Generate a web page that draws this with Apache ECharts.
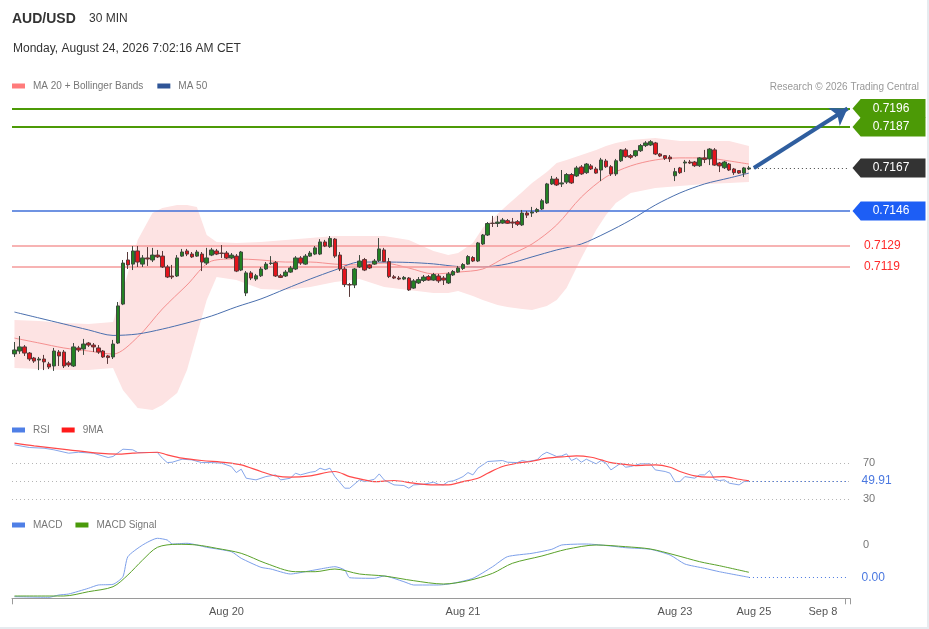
<!DOCTYPE html>
<html><head><meta charset="utf-8">
<script src="https://cdn.jsdelivr.net/npm/echarts@6.0.0/dist/echarts.min.js"></script>
<style>
html,body{margin:0;padding:0;background:#fff;}
#wrap{width:927px;height:627px;border-right:2px solid #e6ebef;border-bottom:2px solid #e6ebef;}
#c{width:927px;height:627px;}
</style>
</head><body><div id="wrap"><div id="c"></div></div>
<script>
// ---------- DATA ----------
const tickIdx = [43, 91, 134, 150, 164];
const tickText = ['Aug 20', 'Aug 21', 'Aug 23', 'Aug 25', 'Sep 8'];
const nCategories = 170;

const open = [0.70763,0.70777,0.70797,0.70767,0.70743,0.70733,0.70738,0.70714,0.70704,0.70772,
0.70772,0.70719,0.70704,0.70792,0.70787,0.70816,0.70806,0.70792,0.70777,0.70753,
0.70748,0.70816,0.71006,0.71221,0.71201,0.71265,0.71201,0.71231,0.71221,0.71245,
0.71240,0.71187,0.71143,0.71143,0.71240,0.71265,0.71250,0.71240,0.71250,0.71206,
0.71245,0.71265,0.71255,0.71255,0.71231,0.71240,0.71172,0.71060,0.71158,0.71128,
0.71144,0.71177,0.71204,0.71208,0.71144,0.71143,0.71162,0.71177,0.71231,0.71201,
0.71240,0.71250,0.71250,0.71309,0.71286,0.71323,0.71245,0.71177,0.71101,0.71099,
0.71187,0.71223,0.71197,0.71201,0.71218,0.71270,0.71213,0.71139,0.71133,0.71128,
0.71133,0.71084,0.71109,0.71121,0.71140,0.71123,0.71143,0.71133,0.71109,0.71148,
0.71162,0.71180,0.71201,0.71233,0.71216,0.71299,0.71343,0.71401,0.71399,0.71401,
0.71413,0.71406,0.71408,0.71392,0.71450,0.71450,0.71457,0.71470,0.71499,0.71592,
0.71616,0.71592,0.71601,0.71638,0.71631,0.71675,0.71647,0.71680,0.71665,0.71660,
0.71704,0.71676,0.71641,0.71705,0.71758,0.71730,0.71730,0.71754,0.71779,0.71782,
0.71792,0.71738,0.71730,0.71723,0.71632,0.71670,0.71694,0.71699,0.71699,0.71681,
0.71719,0.71714,0.71758,0.71694,0.71671,0.71689,0.71665,0.71657,0.71645,0.71665];

const close = [0.70782,0.70797,0.70767,0.70738,0.70728,0.70738,0.70724,0.70699,0.70777,0.70753,
0.70704,0.70709,0.70797,0.70782,0.70811,0.70806,0.70797,0.70772,0.70748,0.70745,
0.70811,0.70997,0.71206,0.71197,0.71265,0.71211,0.71231,0.71226,0.71245,0.71236,
0.71187,0.71138,0.71138,0.71231,0.71260,0.71250,0.71236,0.71260,0.71211,0.71231,
0.71270,0.71250,0.71253,0.71231,0.71245,0.71167,0.71260,0.71158,0.71133,0.71144,
0.71177,0.71201,0.71206,0.71143,0.71136,0.71162,0.71182,0.71231,0.71206,0.71240,
0.71255,0.71280,0.71309,0.71289,0.71326,0.71240,0.71177,0.71101,0.71099,0.71177,
0.71216,0.71172,0.71182,0.71216,0.71275,0.71213,0.71140,0.71133,0.71128,0.71136,
0.71075,0.71119,0.71126,0.71138,0.71123,0.71150,0.71119,0.71123,0.71153,0.71165,
0.71182,0.71199,0.71238,0.71216,0.71304,0.71343,0.71399,0.71399,0.71406,0.71416,
0.71400,0.71401,0.71395,0.71450,0.71440,0.71455,0.71467,0.71510,0.71592,0.71616,
0.71587,0.71597,0.71638,0.71597,0.71670,0.71641,0.71689,0.71665,0.71645,0.71709,
0.71676,0.71641,0.71705,0.71758,0.71725,0.71722,0.71754,0.71779,0.71792,0.71798,
0.71738,0.71728,0.71717,0.71714,0.71652,0.71647,0.71699,0.71694,0.71681,0.71719,
0.71711,0.71762,0.71684,0.71680,0.71699,0.71660,0.71647,0.71645,0.71670,0.71670];

const low = [0.70748,0.70763,0.70753,0.70728,0.70719,0.70684,0.70684,0.70689,0.70680,0.70704,
0.70694,0.70699,0.70699,0.70772,0.70758,0.70797,0.70772,0.70763,0.70743,0.70714,
0.70738,0.70811,0.71001,0.71177,0.71172,0.71187,0.71187,0.71192,0.71211,0.71231,
0.71182,0.71133,0.71128,0.71138,0.71236,0.71240,0.71231,0.71236,0.71167,0.71197,
0.71240,0.71245,0.71231,0.71226,0.71226,0.71162,0.71167,0.71045,0.71123,0.71119,
0.71138,0.71172,0.71197,0.71138,0.71133,0.71138,0.71158,0.71172,0.71197,0.71197,
0.71236,0.71245,0.71245,0.71284,0.71280,0.71231,0.71167,0.71089,0.71041,0.71084,
0.71182,0.71167,0.71177,0.71197,0.71211,0.71211,0.71133,0.71128,0.71123,0.71123,
0.71070,0.71080,0.71104,0.71114,0.71119,0.71119,0.71109,0.71099,0.71104,0.71143,
0.71158,0.71172,0.71197,0.71211,0.71211,0.71294,0.71338,0.71382,0.71382,0.71397,
0.71397,0.71377,0.71387,0.71387,0.71426,0.71431,0.71450,0.71465,0.71494,0.71587,
0.71582,0.71577,0.71592,0.71592,0.71626,0.71636,0.71641,0.71660,0.71641,0.71606,
0.71670,0.71631,0.71631,0.71699,0.71719,0.71714,0.71723,0.71748,0.71772,0.71777,
0.71733,0.71723,0.71709,0.71699,0.71606,0.71641,0.71650,0.71689,0.71675,0.71675,
0.71694,0.71684,0.71680,0.71650,0.71665,0.71655,0.71636,0.71641,0.71626,0.71660];

const high = [0.70821,0.70850,0.70806,0.70772,0.70748,0.70748,0.70758,0.70724,0.70792,0.70782,
0.70782,0.70728,0.70816,0.70802,0.70836,0.70821,0.70816,0.70806,0.70782,0.70758,
0.70831,0.71016,0.71221,0.71260,0.71289,0.71289,0.71245,0.71284,0.71280,0.71270,
0.71265,0.71197,0.71197,0.71245,0.71275,0.71275,0.71260,0.71270,0.71260,0.71280,
0.71280,0.71275,0.71294,0.71265,0.71255,0.71250,0.71265,0.71167,0.71167,0.71153,
0.71187,0.71211,0.71240,0.71216,0.71153,0.71172,0.71192,0.71240,0.71240,0.71250,
0.71265,0.71289,0.71323,0.71319,0.71338,0.71328,0.71260,0.71187,0.71109,0.71182,
0.71245,0.71231,0.71201,0.71226,0.71328,0.71280,0.71231,0.71148,0.71143,0.71143,
0.71138,0.71128,0.71138,0.71148,0.71148,0.71158,0.71153,0.71143,0.71162,0.71172,
0.71192,0.71206,0.71245,0.71240,0.71309,0.71348,0.71406,0.71436,0.71436,0.71426,
0.71421,0.71426,0.71416,0.71465,0.71460,0.71480,0.71475,0.71519,0.71597,0.71631,
0.71626,0.71660,0.71645,0.71645,0.71680,0.71684,0.71694,0.71689,0.71675,0.71719,
0.71714,0.71684,0.71714,0.71762,0.71767,0.71738,0.71758,0.71787,0.71801,0.71806,
0.71797,0.71743,0.71733,0.71733,0.71670,0.71675,0.71709,0.71709,0.71704,0.71723,
0.71758,0.71767,0.71767,0.71699,0.71704,0.71694,0.71670,0.71660,0.71675,0.71680];

// moving averages (read at sample candles)
const maIdx = [0,5,10,15,20,25,30,35,40,45,50,55,60,65,70,75,80,85,90,95,100,105,110,115,120,125,130,135,140,145,149];
const ma20 = [0.70840,0.70816,0.70792,0.70777,0.70762,0.70845,0.70982,0.71099,0.71216,0.71226,
0.71221,0.71211,0.71211,0.71201,0.71197,0.71206,0.71182,0.71153,0.71162,0.71177,
0.71240,0.71299,0.71392,0.71528,0.71626,0.71680,0.71709,0.71719,0.71719,0.71704,0.71689];
const ma50 = [0.70967,0.70938,0.70909,0.70880,0.70853,0.70860,0.70884,0.70914,0.70948,0.70992,
0.71031,0.71080,0.71128,0.71172,0.71211,0.71211,0.71209,0.71202,0.71189,0.71187,
0.71202,0.71236,0.71270,0.71299,0.71353,0.71416,0.71489,0.71548,0.71592,0.71621,0.71645];

// Bollinger bands
const bandIdx = [0,5,10,15,20,22,25,28,30,33,35,37,39,41,45,50,55,60,65,70,75,80,85,88,90,93,95,98,100,103,105,108,110,112,115,118,120,122,125,130,135,140,145,149];
const bandUpper = [0.70928,0.70923,0.70914,0.70909,0.70919,0.71075,0.71319,0.71450,0.71475,0.71489,
0.71489,0.71480,0.71343,0.71309,0.71304,0.71309,0.71319,0.71328,0.71338,0.71338,
0.71338,0.71319,0.71265,0.71245,0.71255,0.71304,0.71377,0.71445,0.71489,0.71553,
0.71597,0.71650,0.71694,0.71709,0.71733,0.71758,0.71777,0.71792,0.71806,0.71816,
0.71801,0.71801,0.71801,0.71777];
const bandLower = [0.70694,0.70689,0.70684,0.70684,0.70694,0.70587,0.70499,0.70489,0.70514,0.70572,
0.70684,0.70855,0.71026,0.71138,0.71123,0.71080,0.71075,0.71089,0.71114,0.71128,
0.71089,0.71075,0.71060,0.71060,0.71070,0.71045,0.71026,0.71001,0.70992,0.70982,
0.70977,0.70997,0.71026,0.71084,0.71231,0.71367,0.71440,0.71499,0.71548,0.71572,
0.71582,0.71592,0.71597,0.71601];

// key levels
const resistLevels = [0.7196, 0.7187];
const lastPrice = 0.7167;
const pivotLevel = 0.7146;
const supportLevels = [0.7129, 0.7119];

// RSI
const rsiIdx = [0,3,6,8,11,13,16,19,20,22,24,25,29,30,31,32,34,36,38,40,42,44,45,46,47,49,51,53,54,56,57,58,60,61,62,63,64,65,67,68,70,71,73,74,75,77,79,80,81,83,85,86,87,88,89,90,91,92,93,94,96,99,100,102,103,104,106,107,108,110,111,112,113,114,115,116,117,118,119,120,121,123,124,125,127,129,130,132,133,134,135,136,138,139,140,141,142,143,144,145,147,148,149];
const rsiVal = [90.6,87.6,86.8,85,81.2,82.3,81.2,76.4,77.5,85.7,85,82,82,75.6,70.7,71.1,74.5,73.7,70.7,70.7,70,66.3,59.5,63.3,53.2,51.3,55,56.9,51.3,53.2,58.8,56.9,59.9,60.7,64.4,62.5,64.4,55,42,42,51.3,49.4,52,58,51.3,45.7,45,42,45.7,46.4,48.7,46.4,45.7,49.4,50.2,52.4,55,59.5,56.9,64.4,71.9,73,71.1,70.7,73,71.9,73.7,79.3,82.3,77.5,78.2,80.5,73,75.6,71.1,74.5,71.9,69.3,73,70,62.5,70,65.5,66.3,69.3,69.3,62.5,60.7,58.8,49.4,49.4,55,53.2,56.9,56.9,61.8,52,50.6,51.3,47.6,45.7,49.4,49.91];
const rsiMaIdx = [0,4,11,17,21,24,29,31,34,38,43,46,50,53,56,60,65,68,71,73,77,81,85,88,90,91,94,96,99,102,105,108,112,114,117,119,121,123,126,130,133,135,138,141,144,147,149];
const rsiMaVal = [92.4,89.4,85,81.2,80.1,81.2,82.3,79.3,75.6,73,70.7,68.1,60.7,55.8,54.3,55.8,60.7,55,51.3,49.4,50.6,47.6,45.7,45.7,48,49.4,53.2,58.8,66.3,70,72.2,75.6,77.5,78.2,76.7,73.7,70.7,69.3,67.4,68.1,65.5,60.7,55.8,54.3,55,52,50.2];
const rsiLevels = [70, 50, 30];
const rsiAxisLabels = [30, 70];

// MACD
const macdIdx = [0,7,9,11,15,17,20,22,23,26,29,31,32,35,39,44,46,50,52,56,59,62,65,67,68,73,75,79,81,86,89,93,97,100,105,109,111,116,121,124,129,133,136,140,143,149];
const macdVal = [-11.4e-5,-12e-5,-9.7e-5,-8.7e-5,-3e-5,0.3e-5,1e-5,8.6e-5,28.6e-5,40.3e-5,47e-5,45.3e-5,41.3e-5,42e-5,38e-5,33.6e-5,27e-5,18e-5,16.3e-5,11.3e-5,13.6e-5,16.3e-5,18.6e-5,15.3e-5,7.6e-5,7e-5,9.3e-5,3.6e-5,0.3e-5,0.3e-5,2e-5,7e-5,18.6e-5,28.6e-5,32e-5,36e-5,40.3e-5,41.3e-5,39.3e-5,37.6e-5,36e-5,30.3e-5,21.3e-5,17e-5,13.6e-5,8e-5];
const sigIdx = [0,10,15,20,23,26,29,33,37,41,46,51,57,61,65,70,75,81,87,92,97,101,107,112,118,124,129,134,139,143,149];
const sigVal = [-10.7e-5,-10.7e-5,-6.4e-5,-1.4e-5,10.3e-5,25.3e-5,38e-5,41e-5,40.3e-5,37e-5,32e-5,22e-5,13.6e-5,13.6e-5,16.3e-5,11.3e-5,9.3e-5,4.6e-5,1.3e-5,4.6e-5,12e-5,22e-5,29.3e-5,36e-5,40.3e-5,38.6e-5,36.3e-5,30.3e-5,23.6e-5,19.6e-5,13e-5];
const macdAxisLabels = [0.0004];

// ---------- CHART ----------
const FONT = 'Liberation Sans, Arial, sans-serif';
const lastIdx = open.length - 1;
const endIdx = nCategories - 1;
const cats = Array.from({length: nCategories}, (_, k) => 'c' + k);
const labelFor = (idx) => { const p = tickIdx.indexOf(idx); return p >= 0 ? tickText[p] : ''; };
const pairs = (ix, v) => ix.map((k, j) => [k, v[j]]);

const GL = 12, GR = 77;
const chart = echarts.init(document.getElementById('c'), null, {renderer: 'canvas'});

const xBase = (gi, show) => ({
  type: 'category', gridIndex: gi, data: cats, boundaryGap: true,
  axisLine: {show: show, onZero: false, lineStyle: {color: '#9a9a9a', width: 1}},
  axisTick: {show: show, length: 6, lineStyle: {color: '#9a9a9a'}, interval: (i) => i === 0 || i === endIdx},
  axisLabel: {show: show, interval: 0, margin: 8, color: '#555', fontSize: 11, fontFamily: FONT,
    formatter: (v, i) => labelFor(i)},
  splitLine: {show: false}
});

const tag = (val, color) => ({
  coord: [lastIdx, val], x: 889, value: val,
  symbol: 'path://M0,10L9,0L80,0L80,20L9,20Z', symbolSize: [73, 19],
  itemStyle: {color: color},
  label: {show: true, position: 'inside', offset: [2, 0], color: '#fff', fontSize: 12, fontFamily: FONT,
    formatter: (p) => p.value.toFixed(4)}
});

const legendText = {color: '#777', fontSize: 10, fontFamily: FONT, padding: [0, 0, 0, 3]};

const option = {
  animation: false,
  backgroundColor: '#fff',
  textStyle: {fontFamily: FONT},
  title: [
    {text: 'AUD/USD', left: 12, top: 12, padding: 0, textStyle: {fontSize: 14, fontWeight: 'bold', color: '#333', fontFamily: FONT}},
    {text: '30 MIN', left: 89, top: 13, padding: 0, textStyle: {fontSize: 12, fontWeight: 'normal', color: '#333', fontFamily: FONT}},
    {text: 'Monday, August 24, 2026 7:02:16 AM CET', left: 13, top: 43, padding: 0, textStyle: {fontSize: 12, fontWeight: 'normal', color: '#333', fontFamily: FONT}},
    {text: 'Research © 2026 Trading Central', right: 8, top: 82, padding: 0, textStyle: {fontSize: 10, fontWeight: 'normal', color: '#999', fontFamily: FONT}}
  ],
  legend: [
    {data: ['MA 20 + Bollinger Bands', 'MA 50'], left: 12, top: 81, padding: 0, icon: 'rect', itemWidth: 13, itemHeight: 5, itemGap: 14,
      textStyle: legendText, selectedMode: false},
    {data: ['RSI', '9MA'], left: 12, top: 425, padding: 0, icon: 'rect', itemWidth: 13, itemHeight: 5, itemGap: 12,
      textStyle: legendText, selectedMode: false},
    {data: ['MACD', 'MACD Signal'], left: 12, top: 520, padding: 0, icon: 'rect', itemWidth: 13, itemHeight: 5, itemGap: 13,
      textStyle: legendText, selectedMode: false}
  ],
  grid: [
    {left: GL, right: GR, top: 96.2, height: 319.8},
    {left: GL, right: GR, top: 440, height: 71.4},
    {left: GL, right: GR, top: 535.3, height: 63}
  ],
  xAxis: [xBase(0, false), xBase(1, false), xBase(2, true)],
  yAxis: [
    {type: 'value', gridIndex: 0, min: 0.7046, max: 0.7202, show: false, splitLine: {show: false}},
    {type: 'value', gridIndex: 1, min: 16, max: 96, position: 'right', splitLine: {show: false},
      axisLine: {show: false}, axisTick: {show: false},
      axisLabel: {customValues: rsiAxisLabels, margin: 13, color: '#777', fontSize: 11, fontFamily: FONT}},
    {type: 'value', gridIndex: 2, min: -0.00013, max: 0.0005, position: 'right', splitLine: {show: false},
      axisLine: {show: false}, axisTick: {show: false},
      axisLabel: {customValues: macdAxisLabels, margin: 13, color: '#777', fontSize: 11, fontFamily: FONT,
        formatter: (v) => Number(v).toFixed(0)}}
  ],
  series: [
    {
      type: 'custom', name: 'band', xAxisIndex: 0, yAxisIndex: 0, z: 1, silent: true,
      data: bandIdx.map((k, j) => [k, bandUpper[j], bandLower[j]]),
      encode: {x: 0, y: [1, 2]},
      renderItem: function (params, api) {
        if (params.dataIndex !== 0) return null;
        const top = bandIdx.map((k, j) => api.coord([k, bandUpper[j]]));
        const bot = bandIdx.map((k, j) => api.coord([k, bandLower[j]])).reverse();
        return {type: 'polygon', shape: {points: top.concat(bot)}, style: {fill: '#fde3e3'}};
      }
    },
    {
      type: 'line', name: 'MA 20 + Bollinger Bands', xAxisIndex: 0, yAxisIndex: 0, z: 3,
      data: pairs(maIdx, ma20), smooth: 0.3, showSymbol: false, symbol: 'none',
      color: '#ff7b7b', lineStyle: {color: '#f59090', width: 1}
    },
    {
      type: 'line', name: 'MA 50', xAxisIndex: 0, yAxisIndex: 0, z: 3, clip: false,
      data: pairs(maIdx, ma50), smooth: 0.3, showSymbol: false, symbol: 'none',
      color: '#2f5597', lineStyle: {color: '#4a6fae', width: 1},
      markLine: {
        silent: true, symbol: 'none', animation: false, precision: 6,
        data: [
          {yAxis: resistLevels[0], lineStyle: {color: '#4c9a06', width: 2, type: 'solid'}, label: {show: false}},
          {yAxis: resistLevels[1], lineStyle: {color: '#4c9a06', width: 2, type: 'solid'}, label: {show: false}},
          {yAxis: pivotLevel, lineStyle: {color: '#3f6fd8', width: 1.5, type: 'solid'}, label: {show: false}},
          {yAxis: supportLevels[0], lineStyle: {color: '#f49a9a', width: 1.5, type: 'solid'},
            label: {show: true, position: 'end', distance: 14, color: '#ff2a2a', fontSize: 12, fontFamily: FONT, formatter: (p) => p.value.toFixed(4)}},
          {yAxis: supportLevels[1], lineStyle: {color: '#f49a9a', width: 1.5, type: 'solid'},
            label: {show: true, position: 'end', distance: 14, color: '#ff2a2a', fontSize: 12, fontFamily: FONT, formatter: (p) => p.value.toFixed(4)}},
          [{coord: [lastIdx + 1, lastPrice], lineStyle: {color: '#444', width: 1, type: [1, 3]}, label: {show: false}},
           {coord: [endIdx, lastPrice]}],
          [{coord: [lastIdx + 1, lastPrice], symbol: 'none', lineStyle: {color: '#2f5e9f', width: 4, type: 'solid'}, label: {show: false}},
           {coord: [endIdx, resistLevels[0]], symbol: 'arrow', symbolSize: [16, 16]}]
        ]
      },
      markPoint: {
        silent: true, animation: false,
        data: [tag(resistLevels[0], '#4c9a06'), tag(resistLevels[1], '#4c9a06'), tag(lastPrice, '#333333'), tag(pivotLevel, '#1d5ef5')]
      }
    },
    {
      type: 'candlestick', name: 'AUD/USD', xAxisIndex: 0, yAxisIndex: 0, z: 5,
      data: open.map((o, k) => [o, close[k], low[k], high[k]]),
      barWidth: 4,
      itemStyle: {color: '#238223', color0: '#e4141c', borderColor: '#3f4a3f', borderColor0: '#5a3a3a', borderWidth: 1}
    },
    {
      type: 'line', name: 'RSI', xAxisIndex: 1, yAxisIndex: 1, z: 3, clip: false,
      data: pairs(rsiIdx, rsiVal), showSymbol: false, symbol: 'none',
      color: '#4f7fe6', lineStyle: {color: '#86a6ea', width: 1},
      markLine: {
        silent: true, symbol: 'none', animation: false, precision: 4,
        data: rsiLevels.map((v) => ({yAxis: v, lineStyle: {color: '#b5b5b5', width: 1, type: [1, 3]}, label: {show: false}})).concat([
          [{coord: [lastIdx, rsiVal[rsiVal.length - 1]], lineStyle: {color: '#4a78e0', width: 1, type: [1, 3]},
            label: {show: true, position: 'end', distance: 14, color: '#4a78e0', fontSize: 12, fontFamily: FONT, formatter: () => rsiVal[rsiVal.length - 1].toFixed(2)}},
           {coord: [endIdx, rsiVal[rsiVal.length - 1]]}]
        ])
      }
    },
    {
      type: 'line', name: '9MA', xAxisIndex: 1, yAxisIndex: 1, z: 4,
      data: pairs(rsiMaIdx, rsiMaVal), smooth: 0.3, showSymbol: false, symbol: 'none',
      color: '#ff1a1a', lineStyle: {color: '#ff4a4a', width: 1.2}
    },
    {
      type: 'line', name: 'MACD', xAxisIndex: 2, yAxisIndex: 2, z: 3, clip: false,
      data: pairs(macdIdx, macdVal), smooth: 0.2, showSymbol: false, symbol: 'none',
      color: '#4f7fe6', lineStyle: {color: '#7c9fea', width: 1},
      markLine: {
        silent: true, symbol: 'none', animation: false, precision: 8,
        data: [
          [{coord: [lastIdx, macdVal[macdVal.length - 1]], lineStyle: {color: '#4a78e0', width: 1, type: [1, 3]},
            label: {show: true, position: 'end', distance: 14, color: '#4a78e0', fontSize: 12, fontFamily: FONT, formatter: () => macdVal[macdVal.length - 1].toFixed(2)}},
           {coord: [endIdx, macdVal[macdVal.length - 1]]}]
        ]
      }
    },
    {
      type: 'line', name: 'MACD Signal', xAxisIndex: 2, yAxisIndex: 2, z: 4,
      data: pairs(sigIdx, sigVal), smooth: 0.3, showSymbol: false, symbol: 'none',
      color: '#4a9a0a', lineStyle: {color: '#5aa22a', width: 1}
    }
  ]
};
chart.setOption(option);
</script>
</body></html>
